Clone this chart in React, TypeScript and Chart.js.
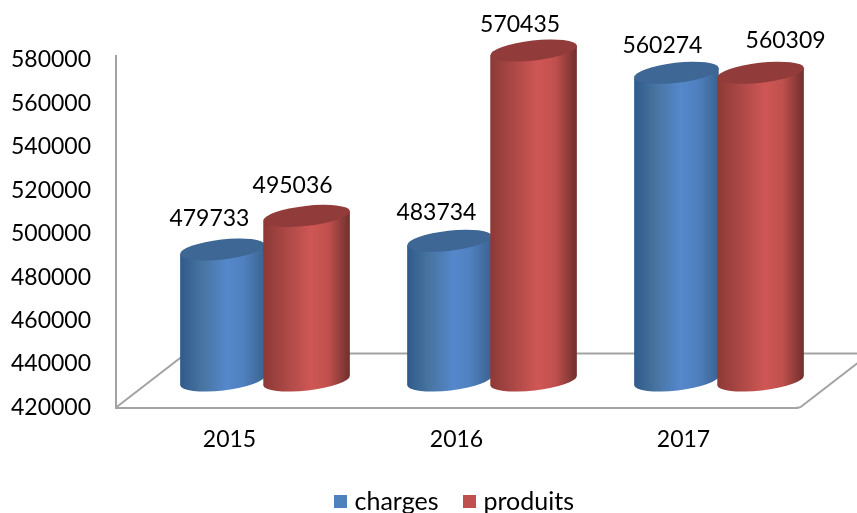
import React, { useEffect, useRef } from "react";
import { Chart, registerables } from "chart.js";

Chart.register(...registerables);

const categories = ["2015", "2016", "2017"];
const charges = [479733, 483734, 560274];
const produits = [495036, 570435, 560309];
const seriesNames = ["charges", "produits"];
const yTickMin = 420000;
const yTickMax = 580000;
const yTickStep = 20000;

const FONT = { family: "Lato, Carlito, sans-serif", size: 23 };
const LEGEND_FONT = { family: "Lato, Carlito, sans-serif", size: 25 };
const DEPTH_X = 35.5;
const DEPTH_Y = 27;
const FLOOR_DX = 70;
const FLOOR_DY = 54;
const RY = 10;
const TILT = -6.5 * Math.PI / 180;
const HEIGHT_SCALE = 1.01;
const GREY = "#a3a3a3";

const seriesStyle = [
  { solid: "#4f81bd", top: "#3e6795", grow: 0, stops: ["#2f5a8b", "#47739f", "#5588cc", "#4f80bf", "#3a628f"] },
  { solid: "#c0504d", top: "#913c3a", grow: 1, stops: ["#8c3936", "#a94745", "#cf5755", "#c0504d", "#6e2f2d"] },
];
// hand placement of the value labels, relative to the cylinder's top centre
const labelShift = [
  [[-13, -31], [-13, -28], [-14, -27]],
  [[-15, -30], [-14.5, -26], [24, -32]],
];

function legendSquare(color: string) {
  const c = document.createElement("canvas");
  c.width = 13;
  c.height = 13;
  const x = c.getContext("2d") as CanvasRenderingContext2D;
  x.fillStyle = color;
  x.fillRect(0, 0, 13, 13);
  return c;
}

const cylinderPlugin = {
  id: "cylinders",
  beforeDatasetsDraw(chart: any) {
    const { ctx, chartArea: a } = chart;
    ctx.save();
    // wall top and floor
    ctx.strokeStyle = GREY;
    ctx.lineWidth = 2;
    ctx.beginPath();
    ctx.moveTo(a.left, a.top - 5);
    ctx.lineTo(a.left, a.top);
    ctx.moveTo(a.left, a.bottom);
    ctx.lineTo(a.left + FLOOR_DX, a.bottom - FLOOR_DY);
    ctx.lineTo(a.right + FLOOR_DX + 3, a.bottom - FLOOR_DY);
    ctx.moveTo(a.right + 3, a.bottom);
    ctx.lineTo(a.right + FLOOR_DX + 3, a.bottom - FLOOR_DY);
    ctx.moveTo(a.right, a.bottom);
    ctx.lineTo(a.right + 3, a.bottom);
    ctx.stroke();

    const cosT = Math.cos(TILT), sinT = Math.sin(TILT);
    chart.data.datasets.forEach((ds: any, d: number) => {
      const meta = chart.getDatasetMeta(d);
      const st = seriesStyle[d];
      meta.data.forEach((el: any) => {
        const cx = el.x + DEPTH_X - st.grow;
        const rx = el.width / 2 + st.grow;
        const baseY = el.base - DEPTH_Y;
        const topY = baseY - (el.base - el.y) * HEIGHT_SCALE;
        const g = ctx.createLinearGradient(cx - rx, 0, cx + rx, 0);
        [0, 0.25, 0.55, 0.75, 1].forEach((p, k) => g.addColorStop(p, st.stops[k]));
        ctx.fillStyle = g;
        ctx.beginPath();
        ctx.moveTo(cx - rx * cosT, topY - rx * sinT);
        ctx.lineTo(cx - rx * cosT, baseY - rx * sinT);
        ctx.ellipse(cx, baseY, rx, RY, TILT, Math.PI, 0, true);
        ctx.lineTo(cx + rx * cosT, topY + rx * sinT);
        ctx.closePath();
        ctx.fill();
        ctx.fillStyle = st.top;
        ctx.beginPath();
        ctx.ellipse(cx, topY, rx, RY, TILT, 0, Math.PI * 2);
        ctx.fill();
      });
    });
    chart.data.datasets.forEach((ds: any, d: number) => {
      chart.getDatasetMeta(d).data.forEach((el: any, i: number) => {
        ctx.fillStyle = "#000";
        ctx.font = `${FONT.size}px ${FONT.family}`;
        ctx.textAlign = "center";
        ctx.textBaseline = "middle";
        const [sx, sy] = labelShift[d][i];
        const baseY = el.base - DEPTH_Y;
        const topY = baseY - (el.base - el.y) * HEIGHT_SCALE;
        ctx.fillText(String(ds.data[i]), el.x + DEPTH_X + sx, topY + sy);
      });
    });
    ctx.restore();
    return false;
  },
};

export default function App() {
  const ref = useRef<HTMLCanvasElement>(null);
  useEffect(() => {
    const chart = new Chart(ref.current as any, {
      type: "bar",
      data: {
        labels: categories,
        datasets: [
          { label: seriesNames[0], data: charges, base: yTickMin, backgroundColor: seriesStyle[0].solid },
          { label: seriesNames[1], data: produits, base: yTickMin, backgroundColor: seriesStyle[1].solid },
        ],
      },
      options: {
        responsive: false,
        animation: false,
        layout: { padding: { top: 60, right: 60, left: 0, bottom: -11 } },
        datasets: { bar: { barPercentage: 1, categoryPercentage: 0.75 } },
        plugins: {
          tooltip: { enabled: false },
          legend: {
            position: "bottom",
            fullSize: false,
            labels: {
              usePointStyle: true,
              pointStyleWidth: 3,
              boxHeight: 13,
              padding: 29.5,
              color: "#000",
              font: LEGEND_FONT,
              generateLabels: (c: any) =>
                c.data.datasets.map((ds: any, i: number) => ({
                  text: ds.label,
                  fillStyle: ds.backgroundColor,
                  strokeStyle: ds.backgroundColor,
                  lineWidth: 0,
                  pointStyle: legendSquare(ds.backgroundColor),
                  datasetIndex: i,
                })),
            },
          },
        },
        scales: {
          x: {
            afterFit: (s: any) => { s.height = 52; },
            grid: { display: false, drawTicks: false },
            border: { display: true, color: GREY, width: 2 },
            ticks: { color: "#000", font: FONT, padding: 18, maxRotation: 0 },
          },
          y: {
            min: yTickMin,
            max: yTickMax,
            afterFit: (s: any) => { s.width = 116; },
            grid: { display: false, drawTicks: false },
            border: { display: true, color: GREY, width: 2 },
            ticks: { stepSize: yTickStep, color: "#000", font: FONT, padding: 25, callback: (v: any) => String(v) },
          },
        },
      } as any,
      plugins: [cylinderPlugin],
    });
    return () => chart.destroy();
  }, []);
  return (
    <div style={{ position: "absolute", left: 0, top: 0, width: 857, height: 513, background: "#fff", overflow: "hidden" }}>
      <canvas ref={ref} width={857} height={513} style={{ display: "block" }} />
    </div>
  );
}
